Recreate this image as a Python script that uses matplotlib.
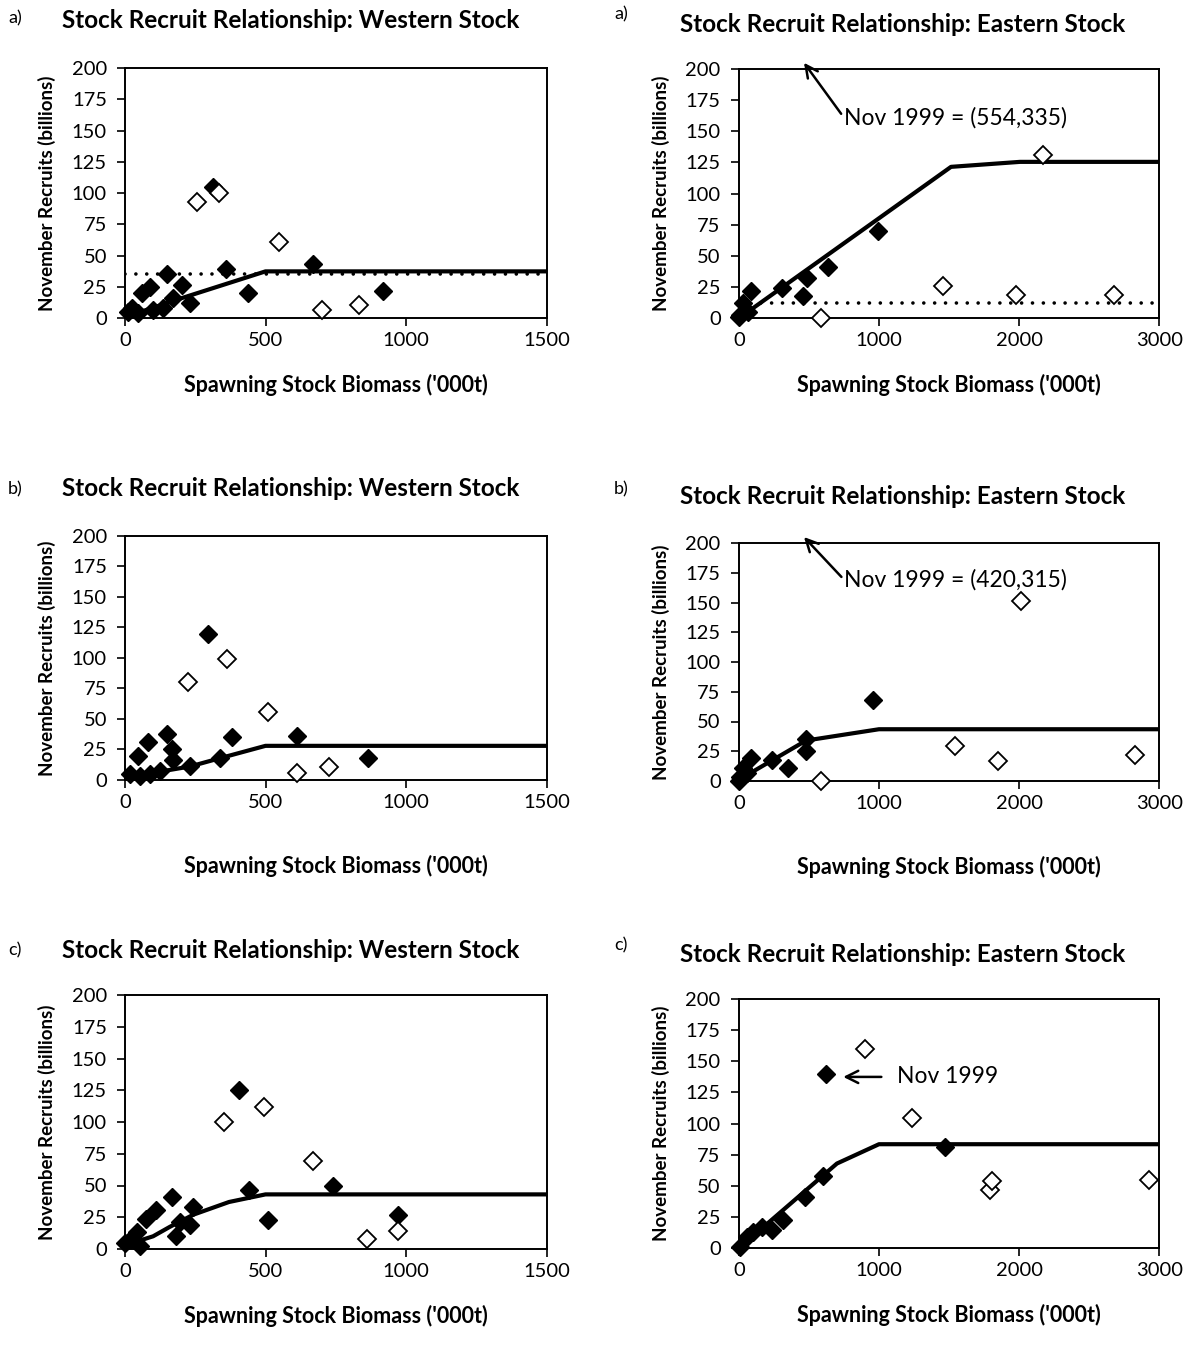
import matplotlib
matplotlib.use("Agg")
import matplotlib.pyplot as plt

plt.rcParams['font.family'] = ['Lato', 'DejaVu Sans']

# Figure size in pixels (dpi 100)
W, H = 1191, 1351

# ---- Western stock, panel a ----
wa_filled_x = [12, 24, 47, 59, 89, 100, 136, 148, 172, 202, 231, 314, 358, 439, 668, 919]
wa_filled_y = [5, 8, 4, 20, 25, 7, 8, 35, 16, 27, 12.5, 105, 39, 20, 43, 22]
wa_open_x = [255, 336, 548, 700, 832]
wa_open_y = [93, 100.5, 61, 7, 11]
wa_fit_x = [0, 200, 500, 1500]
wa_fit_y = [1, 16, 37.5, 37.5]
wa_mean = 35

# ---- Eastern stock, panel a ----
ea_filled_x = [0, 9, 33, 68, 85, 311, 460, 484, 634, 990]
ea_filled_y = [1, 3, 12, 5.4, 22, 24, 18, 32, 41, 70.4]
ea_open_x = [584, 1454, 1977, 2172, 2676]
ea_open_y = [0, 26, 19, 131, 19]
ea_fit_x = [0, 1514, 2006, 3000]
ea_fit_y = [0, 121.5, 125.5, 125.5]
ea_mean = 12.6

# ---- Western stock, panel b ----
wb_filled_x = [18, 47, 53, 83, 89, 125, 148, 166, 172, 231, 295, 338, 382, 611, 866]
wb_filled_y = [5, 20, 3, 31, 5, 7, 38, 25, 16, 11.5, 120, 18, 35.5, 36, 18]
wb_open_x = [223, 364, 508, 611, 726]
wb_open_y = [80.6, 99, 56, 6, 11]
wb_fit_x = [0, 230, 340, 500, 1500]
wb_fit_y = [2, 11, 18, 28, 28]

# ---- Eastern stock, panel b ----
eb_filled_x = [0, 9, 33, 56, 85, 234, 353, 479, 479, 959]
eb_filled_y = [0, 3, 11, 7, 19, 18, 11, 25, 35, 68]
eb_open_x = [584, 1546, 1846, 2013, 2830]
eb_open_y = [0, 29, 17, 151, 22]
eb_fit_x = [0, 480, 1000, 3000]
eb_fit_y = [1, 34, 43.5, 43.5]

# ---- Western stock, panel c ----
wc_filled_x = [0, 20, 41, 55, 75, 110, 166, 180, 196, 231, 243, 407, 441, 508, 741, 970]
wc_filled_y = [5, 8, 13, 2, 24, 31, 41, 10, 21.5, 19, 33, 125, 46.5, 23, 49.6, 27]
wc_open_x = [352, 495, 670, 860, 970]
wc_open_y = [100, 112, 69, 8, 14]
wc_fit_x = [0, 100, 160, 243, 370, 500, 1500]
wc_fit_y = [3, 10, 17.5, 27, 37, 43, 43]

# ---- Eastern stock, panel c ----
ec_filled_x = [9, 56, 104, 163, 235, 318, 472, 603, 620, 1471]
ec_filled_y = [1.3, 9.3, 13, 17, 15, 23, 41.4, 58, 139.7, 81]
ec_open_x = [900, 1233, 1792, 1803, 2926]
ec_open_y = [160, 104.7, 46.7, 54, 54.8]
ec_fit_x = [0, 700, 1000, 3000]
ec_fit_y = [0, 68, 83.5, 83.5]

y_ticks = [0, 25, 50, 75, 100, 125, 150, 175, 200]
west_ticks = [0, 500, 1000, 1500]
east_ticks = [0, 1000, 2000, 3000]


def box(left, top, right, bottom):
    # pixel box -> figure fraction
    return [left / W, 1 - bottom / H, (right - left) / W, (bottom - top) / H]


def draw_panel(ax, fx, fy, ox, oy, lx, ly, xticks, mean=None, xpad=18):
    ax.plot(lx, ly, color='black', lw=3, zorder=2)
    if mean is not None:
        ax.plot([xticks[0], xticks[-1]], [mean, mean], color='black', lw=2.6,
                linestyle=(0, (0.01, 3.0)), dash_capstyle='round', zorder=2)
    ax.plot(fx, fy, 'D', color='black', ms=9, clip_on=False, zorder=3)
    ax.plot(ox, oy, 'D', mfc='white', mec='black', mew=1.3, ms=9, clip_on=False, zorder=4)
    ax.set_xlim(xticks[0], xticks[-1])
    ax.set_ylim(0, 200)
    ax.set_xticks(xticks)
    ax.set_yticks(y_ticks)
    ax.tick_params(direction='out', length=6, width=1.2, labelsize=14.5)
    ax.tick_params(axis='y', pad=7)
    ax.tick_params(axis='x', pad=4)
    for s in ax.spines.values():
        s.set_linewidth(1.4)
    ax.set_xlabel("Spawning Stock Biomass ('000t)", fontweight='bold', fontsize=15.5, labelpad=xpad)
    ax.set_ylabel("November Recruits (billions)", fontweight='bold', fontsize=13.5, labelpad=11)


fig = plt.figure(figsize=(W / 100, H / 100), dpi=100)

ax1 = fig.add_axes(box(125, 68, 546.5, 318.3))
ax2 = fig.add_axes(box(738.8, 69, 1159.3, 318.3))
ax3 = fig.add_axes(box(125, 536, 546.5, 780))
ax4 = fig.add_axes(box(738.8, 543, 1159.3, 781))
ax5 = fig.add_axes(box(125, 995, 546.5, 1249))
ax6 = fig.add_axes(box(738.8, 999, 1159.3, 1248.3))

draw_panel(ax1, wa_filled_x, wa_filled_y, wa_open_x, wa_open_y, wa_fit_x, wa_fit_y, west_ticks, wa_mean)
draw_panel(ax2, ea_filled_x, ea_filled_y, ea_open_x, ea_open_y, ea_fit_x, ea_fit_y, east_ticks, ea_mean)
draw_panel(ax3, wb_filled_x, wb_filled_y, wb_open_x, wb_open_y, wb_fit_x, wb_fit_y, west_ticks, xpad=32)
draw_panel(ax4, eb_filled_x, eb_filled_y, eb_open_x, eb_open_y, eb_fit_x, eb_fit_y, east_ticks, xpad=32)
draw_panel(ax5, wc_filled_x, wc_filled_y, wc_open_x, wc_open_y, wc_fit_x, wc_fit_y, west_ticks)
draw_panel(ax6, ec_filled_x, ec_filled_y, ec_open_x, ec_open_y, ec_fit_x, ec_fit_y, east_ticks)

# Nov 1999 call-outs
arrow = dict(arrowstyle='->', lw=1.8, color='black', shrinkA=0, shrinkB=0,
             mutation_scale=22, relpos=(0, 0.5))
ax2.annotate('Nov 1999 = (554,335)', xy=(465, 205), xytext=(750, 161),
             fontsize=16.5, va='center', ha='left', annotation_clip=False, arrowprops=arrow)
ax4.annotate('Nov 1999 = (420,315)', xy=(465, 205), xytext=(752, 169),
             fontsize=16.5, va='center', ha='left', annotation_clip=False, arrowprops=arrow)
ax6.annotate('Nov 1999', xy=(745, 137.5), xytext=(1126, 137.5),
             fontsize=16.5, va='center', ha='left', annotation_clip=False,
             arrowprops=dict(arrowstyle='->', lw=1.8, color='black', shrinkA=9, shrinkB=0,
                             mutation_scale=22, relpos=(0, 0.5)))

# panel titles
titles = [
    ('a)', 8, 18, 62, 20, 'Western'),
    ('a)', 614, 14, 680, 24, 'Eastern'),
    ('b)', 8, 489, 62, 489, 'Western'),
    ('b)', 614, 489, 680, 497, 'Eastern'),
    ('c)', 8, 950, 62, 950, 'Western'),
    ('c)', 614, 945, 680, 955, 'Eastern'),
]
for lab, lx_, ly_, tx, ty, stock in titles:
    fig.text(lx_ / W, 1 - ly_ / H, lab, fontsize=13, va='center', ha='left')
    fig.text(tx / W, 1 - ty / H, 'Stock Recruit Relationship: %s Stock' % stock,
             fontsize=17.5, fontweight='bold', va='center', ha='left')

fig.savefig('out.png', dpi=100)
